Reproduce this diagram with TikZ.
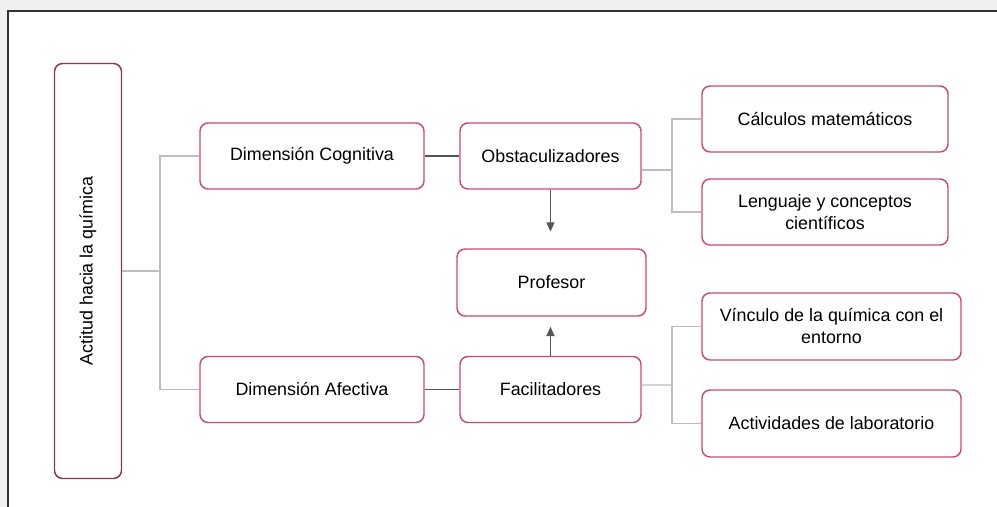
\documentclass[tikz,border=0pt]{standalone}
\usepackage{fontspec}
\setmainfont{Liberation Sans}
\usetikzlibrary{arrows.meta}
\begin{document}
\begin{tikzpicture}[x=0.75pt,y=-0.75pt,
  concept/.style={draw=color0,line width=1.1pt,fill=white,rounded corners=6pt,align=center,font=\fontsize{13.4}{16.5}\selectfont},
  branch/.style={color2,line width=0.9pt},
  link/.style={color3,line width=0.8pt},
  push/.style={color3,line width=0.9pt,-{Triangle[length=7pt,width=6pt]}}]
\definecolor{color0}{HTML}{CC4A6E}
\definecolor{color1}{HTML}{8C3453}
\definecolor{color2}{HTML}{BDBDBD}
\definecolor{color3}{HTML}{555555}
\useasboundingbox (0,0) rectangle (997,507);
\fill[gray!12] (0,0) rectangle (997,10);
\fill[gray!12] (0,10) rectangle (7,507);
\draw[black!80,line width=0.8pt] (8,507) -- (8,11) -- (997,11);
\node[concept,draw=color1,minimum width=50.25pt,minimum height=311.25pt] (act) at (88,271) {};
\node[rotate=90,font=\fontsize{13.4}{16.5}\selectfont] (acttext) at (88,271) {Actitud hacia la química};
\node[concept,minimum width=168pt,minimum height=49.5pt] (cog) at (312,156) {Dimensión Cognitiva};
\node[concept,minimum width=168pt,minimum height=49.5pt] (afe) at (312,389.5) {Dimensión Afectiva};
\node[concept,minimum width=135.75pt,minimum height=49.5pt] (obs) at (550.5,156) {Obstaculizadores};
\node[concept,minimum width=135.75pt,minimum height=49.5pt] (fac) at (550.5,389.5) {Facilitadores};
\node[concept,minimum width=141.75pt,minimum height=50.25pt] (prof) at (551.5,282.5) {Profesor};
\node[concept,minimum width=184.5pt,minimum height=49.5pt] (calc) at (825,119) {Cálculos matemáticos};
\node[concept,minimum width=184.5pt,minimum height=49.5pt] (leng) at (825,212) {Lenguaje y conceptos\\científicos};
\node[concept,minimum width=194.25pt,minimum height=50.25pt] (vinc) at (831.5,326.5) {Vínculo de la química con el\\entorno};
\node[concept,minimum width=194.25pt,minimum height=50.25pt] (lab) at (831.5,423.5) {Actividades de laboratorio};
% tree on the left
\coordinate (trunk) at (160,271);
\draw[branch] (act.east) -- (trunk);
\draw[branch] (trunk) |- (cog.west);
\draw[branch] (trunk) |- (afe.west);
\draw[link] (cog.east) -- (obs.west);
\draw[link] (afe.east) -- (fac.west);
% forks on the right
\coordinate (obsfork) at (672,170);
\coordinate (facfork) at (672,385);
\draw[branch] ([yshift=-10.5pt]obs.east) -- (obsfork);
\draw[branch] (obsfork) |- (calc.west);
\draw[branch] (obsfork) |- (leng.west);
\draw[branch] ([yshift=3.4pt]fac.east) -- (facfork);
\draw[branch] (facfork) |- (vinc.west);
\draw[branch] (facfork) |- (lab.west);
% arrows to the teacher
\draw[push,shorten >=12.5pt] (obs.south) -- (obs.south |- prof.north);
\draw[push,shorten >=7.5pt] (fac.north) -- (fac.north |- prof.south);
\end{tikzpicture}
\end{document}
